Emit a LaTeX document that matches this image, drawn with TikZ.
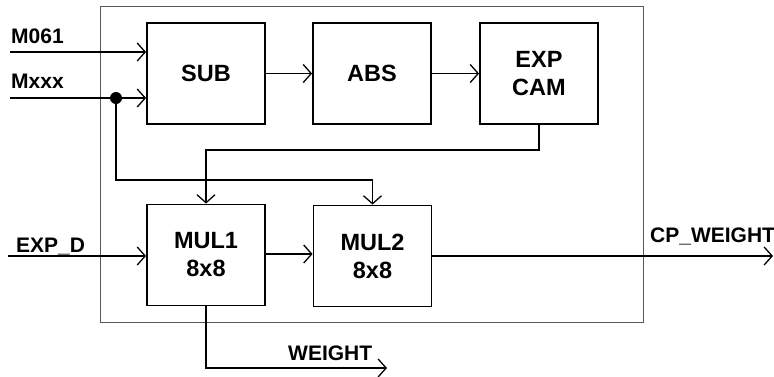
\documentclass[tikz,border=0pt]{standalone}
\usepackage{fontspec}
\setmainfont{Liberation Sans}
\usetikzlibrary{arrows.meta}
\begin{document}
\begin{tikzpicture}[x=1pt,y=-1pt,
  blk/.style={draw, line width=1.8pt, minimum width=118pt, minimum height=101pt,
    inner sep=0pt, align=center, font=\fontsize{23.5}{28}\selectfont\bfseries},
  lbl/.style={anchor=base west, inner sep=0pt, font=\fontsize{21}{24}\selectfont\bfseries},
  wire/.style={line width=1.3pt},
  arr/.style={wire, -{Straight Barb[length=8pt, width=18pt, line width=1.3pt]}},
  dot/.style={circle, fill, inner sep=0pt, minimum size=12pt}]
\useasboundingbox (0,0) rectangle (774,376);
% enclosing block
\draw[black!65, line width=0.9pt] (100,6) rectangle (643,322);
% processing blocks
\node[blk] (sub) at (206,73.5) {SUB};
\node[blk] (abs) at (372,73.5) {ABS};
\node[blk] (cam) at (539,73.5) {EXP\\CAM};
\node[blk] (mul1) at (206,255) {MUL1\\8x8};
\node[blk] (mul2) at (372.5,256) {MUL2\\8x8};
% ports
\coordinate (m061) at (10,52);
\coordinate (mxxx) at (10,98);
\coordinate (expd) at (8,256);
\coordinate (cpw) at (773,256);
\coordinate (wout) at (387,368);
\coordinate (tap) at (116,180);
\node[dot] (j) at (116,98) {};
% signal names
\node[lbl] (lm061) at (11,43) {M061};
\node[lbl] (lmxxx) at (11,88) {Mxxx};
\node[lbl] (lexpd) at (16,252) {EXP\_D};
\node[lbl] (lcpw) at (650,242) {CP\_WEIGHT};
\node[lbl] (lw) at (288,360) {WEIGHT};
% connections
\draw[arr] (m061) -- (m061 -| sub.west);
\draw[wire] (mxxx) -- (j.center);
\draw[arr] (j.center) -- (j -| sub.west);
\draw[arr] (sub.east) -- (abs.west);
\draw[arr] (abs.east) -- (cam.west);
\draw[arr] (cam.south) -- ++(0,25) -| (mul1.north);
\draw[arr] (j.center) -- (tap) -| (mul2.north);
\draw[arr] (expd) -- (expd -| mul1.west);
\draw[arr] (mul1.east |- 0,254) -- (mul2.west |- 0,254);
\draw[arr] (mul2.east |- cpw) -- (cpw);
\draw[arr] (mul1.south) |- (wout);
\end{tikzpicture}
\end{document}
